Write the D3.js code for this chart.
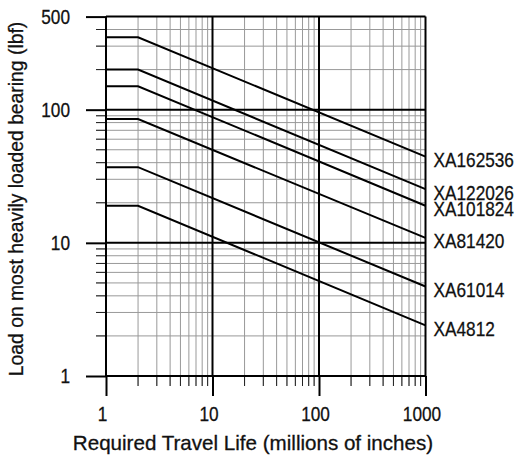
<!DOCTYPE html>
<html>
<head>
<meta charset="utf-8">
<script src="https://cdn.jsdelivr.net/npm/d3@7"></script>
<style>
  body { margin: 0; background: #fff; }
  text { font-family: "Liberation Sans", Arial, sans-serif; fill: #111; stroke: #111; stroke-width: 0.3px; }
</style>
</head>
<body>
<div id="chart"></div>
<script>
// bearing models, load on the flat part (life 1..2) and load at 1000 million inches
const models = ["XA162536", "XA122026", "XA101824", "XA81420", "XA61014", "XA4812"];
const flatLoad = [350, 200, 150, 85, 37, 19];
const endLoad = [44.4, 25.3, 19.0, 10.9, 4.7, 2.4];
const lifeStart = 1, lifeKnee = 2, lifeEnd = 1000;
const lifeTicks = [1, 10, 100, 1000];
const loadTicks = [1, 10, 100, 500];

const width = 525, height = 455;
const mLeft = 106, mRight = 425.5, mTop = 16.6, mBottom = 376;
const fontSize = "21px";

// squeeze a text to a condensed look (the original uses a narrow face)
function condense(sel, k) {
  sel.each(function() {
    let len = this.getComputedTextLength();
    d3.select(this)
      .attr("textLength", len * k)
      .attr("lengthAdjust", "spacingAndGlyphs");
  });
}

let svg = d3.select("#chart")
  .append("svg")
  .attr("width", width)
  .attr("height", height);

let x = d3.scaleLog().domain([1, 1000]).range([mLeft, mRight]);
let y = d3.scaleLog().domain([1, 500]).range([mBottom, mTop]);

// minor grid
let minorX = x.ticks().filter(d => lifeTicks.indexOf(d) < 0);
let minorY = y.ticks().filter(d => loadTicks.indexOf(d) < 0);

svg.append("g").selectAll("line").data(minorX).join("line")
  .attr("x1", d => x(d)).attr("x2", d => x(d))
  .attr("y1", mTop).attr("y2", mBottom + 10)
  .attr("stroke", "#999").attr("stroke-width", 1);
svg.append("g").selectAll("line").data(minorY).join("line")
  .attr("x1", mLeft - 10).attr("x2", mRight)
  .attr("y1", d => y(d)).attr("y2", d => y(d))
  .attr("stroke", "#999").attr("stroke-width", 1);

// minor ticks outside the plot in black
svg.append("g").selectAll("line").data(minorX).join("line")
  .attr("x1", d => x(d)).attr("x2", d => x(d))
  .attr("y1", mBottom).attr("y2", mBottom + 10)
  .attr("stroke", "#222").attr("stroke-width", 1);
svg.append("g").selectAll("line").data(minorY).join("line")
  .attr("x1", mLeft - 10).attr("x2", mLeft)
  .attr("y1", d => y(d)).attr("y2", d => y(d))
  .attr("stroke", "#222").attr("stroke-width", 1);

// major grid
svg.append("g").selectAll("line").data(lifeTicks).join("line")
  .attr("x1", d => x(d)).attr("x2", d => x(d))
  .attr("y1", mTop).attr("y2", mBottom)
  .attr("stroke", "#000").attr("stroke-width", 2);
svg.append("g").selectAll("line").data(loadTicks).join("line")
  .attr("x1", mLeft).attr("x2", mRight)
  .attr("y1", d => y(d)).attr("y2", d => y(d))
  .attr("stroke", "#000").attr("stroke-width", 2);

// axes with long major ticks
let xAxis = svg.append("g")
  .attr("transform", "translate(0," + mBottom + ")")
  .call(d3.axisBottom(x).tickValues(lifeTicks).tickSize(20).tickPadding(10)
    .tickFormat(d3.format("d")));
let yAxis = svg.append("g")
  .attr("transform", "translate(" + mLeft + ",0)")
  .call(d3.axisLeft(y).tickValues(loadTicks).tickSize(20).tickPadding(16)
    .tickFormat(d3.format("d")));

[xAxis, yAxis].forEach(a => {
  a.select(".domain").remove();
  a.selectAll(".tick line").attr("stroke", "#000").attr("stroke-width", 2);
  a.selectAll(".tick text").style("font-size", fontSize)
    .style("font-family", "'Liberation Sans', Arial, sans-serif")
    .attr("fill", "#111")
    .call(condense, 0.82);
});
xAxis.selectAll(".tick text").attr("dx", -4);

// load curves
let line = d3.line().x(d => x(d[0])).y(d => y(d[1]));
let series = models.map((m, i) => ({
  name: m,
  points: [[lifeStart, flatLoad[i]], [lifeKnee, flatLoad[i]], [lifeEnd, endLoad[i]]]
}));

svg.append("g").selectAll("path").data(series).join("path")
  .attr("d", d => line(d.points))
  .attr("fill", "none")
  .attr("stroke", "#000")
  .attr("stroke-width", 2);

svg.append("g").selectAll("text").data(series).join("text")
  .attr("x", mRight + 8)
  .attr("y", d => y(d.points[2][1]) + 10.5)
  .style("font-size", fontSize)
  .text(d => d.name)
  .call(condense, 0.82);

// axis titles
svg.append("text")
  .attr("x", 253)
  .attr("y", 450)
  .attr("text-anchor", "middle")
  .style("font-size", fontSize)
  .text("Required Travel Life (millions of inches)")
  .call(condense, 0.98);

svg.append("text")
  .attr("transform", "translate(23,199) rotate(-90)")
  .attr("text-anchor", "middle")
  .style("font-size", fontSize)
  .text("Load on most heavily loaded bearing (lbf)")
  .call(condense, 0.92);
</script>
</body>
</html>
